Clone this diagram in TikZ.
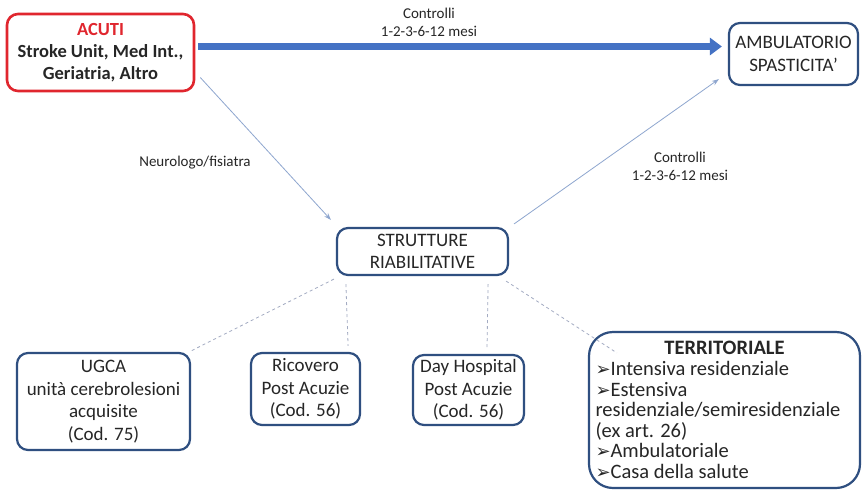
\documentclass[tikz,border=0pt]{standalone}
\usepackage{fontspec}
\setmainfont{Carlito}
\newfontfamily\dejavu{DejaVu Sans}
\usetikzlibrary{arrows.meta}
\definecolor{boxblue}{HTML}{2F4F80}
\definecolor{barblue}{HTML}{4472C4}
\definecolor{acured}{HTML}{E0262E}
\definecolor{thinblue}{HTML}{8EA6CF}
\definecolor{dashgray}{HTML}{A3ABC2}
\newcommand{\bul}{{\dejavu\fontsize{18}{18}\selectfont ➢}}

\begin{document}
\begin{tikzpicture}[x=1pt,y=-1pt,
  sbox/.style={draw=boxblue,line width=2.2pt,rounded corners=11pt,fill=white,align=center,inner sep=0pt,
    font=\fontsize{19}{22.5}\selectfont,text=black!85},
  lab/.style={align=center,font=\fontsize{15}{18}\selectfont,text=black!85},
  ctrl/.style={thinblue,line width=0.8pt,-{Stealth[length=7pt,width=5pt]}},
  link/.style={dashgray,line width=0.8pt,dashed}]
\useasboundingbox[fill=white] (0,0) rectangle (863,491);

\node[sbox,draw=acured,line width=2.6pt,minimum width=187pt,minimum height=77pt,
  font=\fontsize{18.5}{22}\selectfont\bfseries] (acuti) at (100.5,52.5)
  {\textcolor{acured}{ACUTI}\\Stroke Unit, Med Int.,\\Geriatria, Altro};
\node[sbox,minimum width=129pt,minimum height=62pt] (ambul) at (793.5,54) {AMBULATORIO\\SPASTICITA'};
\node[sbox,minimum width=171pt,minimum height=47pt] (strutt) at (422.5,251.5) {STRUTTURE\\RIABILITATIVE};

\node[sbox,minimum width=173pt,minimum height=97pt] (ugca) at (103.5,401.5)
  {UGCA\\unità cerebrolesioni\\acquisite\\(Cod. 75)};
\node[sbox,minimum width=109pt,minimum height=72pt] (ricov) at (305.5,389) {Ricovero\\Post Acuzie\\(Cod. 56)};
\node[sbox,minimum width=111pt,minimum height=70pt] (dayh) at (468.5,390) {Day Hospital\\Post Acuzie\\(Cod. 56)};
\node[sbox,rounded corners=24pt,minimum width=271pt,minimum height=156pt,align=left,
  font=\fontsize{20.5}{20.6}\selectfont] (territ) at (724.5,410)
  {\makebox[258pt]{\textbf{TERRITORIALE}}\\
   \bul Intensiva residenziale\\
   \bul Estensiva\\
   residenziale/semiresidenziale\\
   (ex art. 26)\\
   \bul Ambulatoriale\\
   \bul Casa della salute};

\node[lab] (ctrlA) at (429,22) {Controlli\\1-2-3-6-12 mesi};
\node[lab] (ctrlB) at (680,166) {Controlli\\1-2-3-6-12 mesi};
\node[lab] (neuro) at (195,163) {Neurologo/fisiatra};

\draw[barblue,line width=7pt,-{Triangle[length=12pt,width=17pt]}]
  ([shift={(3pt,6pt)}]acuti.east) -- ([shift={(-6pt,6pt)}]acuti.east -| ambul.west);
\draw[ctrl] ([shift={(5pt,-25pt)}]acuti.east) -- ([shift={(-5pt,7pt)}]strutt.north west);
\draw[ctrl] ([shift={(5pt,3pt)}]strutt.north east) -- ([shift={(-9pt,7pt)}]ambul.south west);

\draw[link] ([shift={(-2pt,-3pt)}]strutt.south west) -- ([shift={(0pt,1pt)}]ugca.north east);
\draw[link] ([shift={(10pt,-8pt)}]strutt.south west) -- ([shift={(-13pt,6pt)}]ricov.north east);
\draw[link] ([shift={(-21pt,-8pt)}]strutt.south east) -- ([shift={(18.5pt,5pt)}]dayh.north);
\draw[link] ([shift={(-3pt,-5pt)}]strutt.south east) -- ([shift={(29pt,-22pt)}]territ.north west);
\end{tikzpicture}
\end{document}
